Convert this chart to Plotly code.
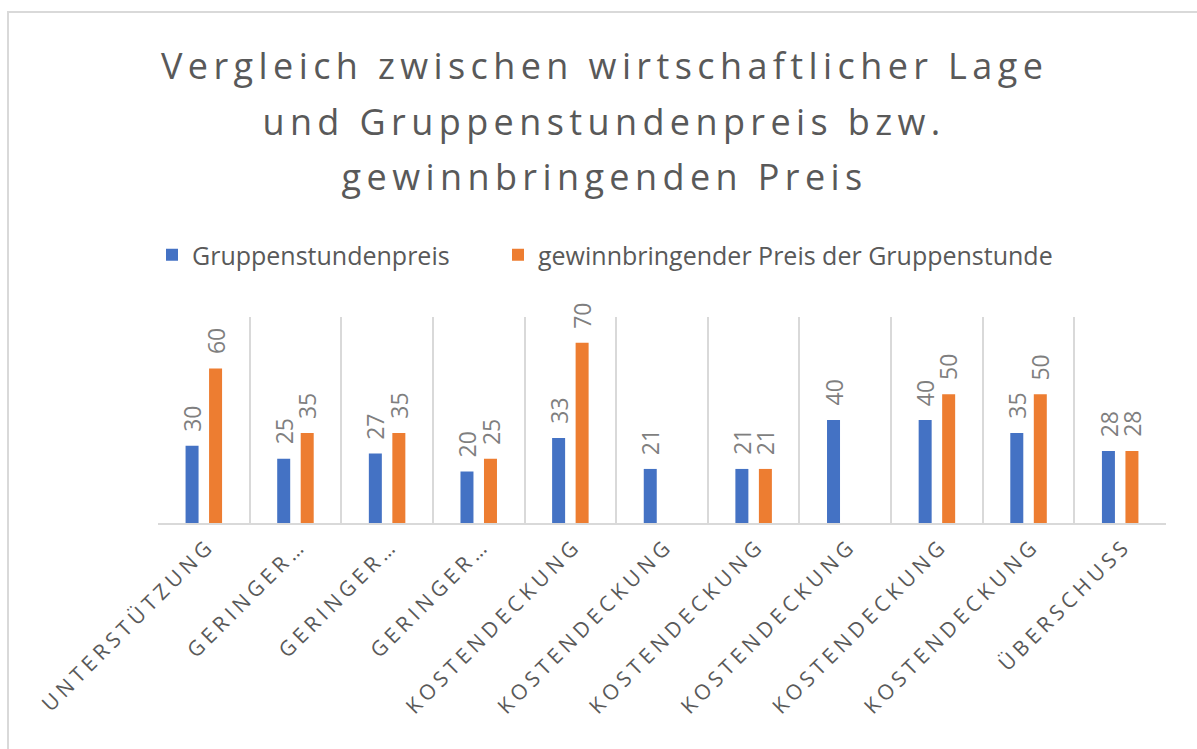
import plotly.graph_objects as go

# Categories and values
categories = ["Unterstützung", "Geringer…", "Geringer…", "Geringer…",
              "Kostendeckung", "Kostendeckung", "Kostendeckung", "Kostendeckung",
              "Kostendeckung", "Kostendeckung", "Überschuss"]
gruppenstundenpreis = [30, 25, 27, 20, 33, 21, 21, 40, 40, 35, 28]
gewinnbringend = [60, 35, 35, 25, 70, None, 21, None, 50, 50, 28]

series_names = ["Gruppenstundenpreis", "gewinnbringender Preis der Gruppenstunde"]
series_colors = ["#4472C4", "#ED7D31"]

title_lines = ["Vergleich zwischen wirtschaftlicher Lage",
               "und Gruppenstundenpreis bzw.",
               "gewinnbringenden Preis"]

W, H = 1197, 749
M_L, M_R, M_T, M_B = 158, 31, 317, 226
BARGAP, BARGROUPGAP = 0.487, 0.447
TEXT = "#595959"
GRID = "#D9D9D9"
FONT = "Open Sans"

plot_w = W - M_L - M_R
plot_h = H - M_T - M_B
n = len(categories)
x_idx = list(range(n))

# pixel -> paper helpers for decorative placement
def px_x(px):
    return (px - M_L) / plot_w

def px_y(py):
    return (H - M_B - py) / plot_h

fig = go.Figure()
legend_ids = ["legend", "legend2"]
for name, vals, col, lg in zip(series_names, [gruppenstundenpreis, gewinnbringend],
                               series_colors, legend_ids):
    fig.add_trace(go.Bar(x=x_idx, y=vals, name=name, legend=lg,
                         marker=dict(color=col, line=dict(width=0))))

annotations = []
# title, one line per annotation
for k, line in enumerate(title_lines):
    annotations.append(dict(
        text=line, xref="paper", yref="paper", x=px_x(604), y=px_y(66 + 55 * k),
        xanchor="center", yanchor="middle", showarrow=False,
        font=dict(family=FONT, size=36, color=TEXT)))

# value labels above each bar
cat_px = plot_w / n
half_off = cat_px * (1 - BARGAP) / 4
for s, vals in enumerate([gruppenstundenpreis, gewinnbringend]):
    for i, v in enumerate(vals):
        if v is None:
            continue
        annotations.append(dict(
            x=i, y=v, xref="x", yref="y", text=str(v), textangle=-90,
            showarrow=False, xanchor="center", yanchor="bottom",
            xshift=(-1 if s == 0 else 1) * half_off, yshift=12,
            font=dict(family=FONT, size=23, color="#7F7F7F")))

legend_style = dict(orientation="h", y=px_y(255), xanchor="left", yanchor="middle",
                    font=dict(family=FONT, size=25, color=TEXT), bgcolor="rgba(0,0,0,0)")

fig.update_layout(
    width=W, height=H,
    margin=dict(l=M_L, r=M_R, t=M_T, b=M_B),
    paper_bgcolor="white", plot_bgcolor="white",
    barmode="group", bargap=BARGAP, bargroupgap=BARGROUPGAP,
    showlegend=True,
    legend=dict(x=px_x(152), **legend_style),
    legend2=dict(x=px_x(498), **legend_style),
    annotations=annotations,
    shapes=[dict(type="rect", xref="paper", yref="paper",
                 x0=px_x(8), x1=px_x(1260), y0=px_y(800), y1=px_y(12),
                 line=dict(color=GRID, width=2), fillcolor="rgba(0,0,0,0)", layer="below")],
)

fig.update_xaxes(
    range=[-0.5, n - 0.5], tickvals=x_idx, ticktext=categories, tickangle=-45,
    tickfont=dict(family=FONT, size=21, color=TEXT, textcase="upper"),
    ticklabelshift=5,
    showgrid=False, zeroline=False, ticks="",
    showline=True, linecolor=GRID, linewidth=2,
    minor=dict(tickvals=[i - 0.5 for i in range(n + 1)], showgrid=True,
               gridcolor=GRID, gridwidth=2, ticks=""),
)
fig.update_yaxes(range=[0, 80], visible=False, showgrid=False, zeroline=False)

spacing_css = (
    "var st=document.createElement('style');"
    "st.textContent='.xtick text{letter-spacing:4.5px}"
    " g.annotation[data-index=\"0\"] text, g.annotation[data-index=\"1\"] text,"
    " g.annotation[data-index=\"2\"] text{letter-spacing:5.4px}';"
    "document.head.appendChild(st);"
)

fig.write_html("out.html", post_script=spacing_css)
